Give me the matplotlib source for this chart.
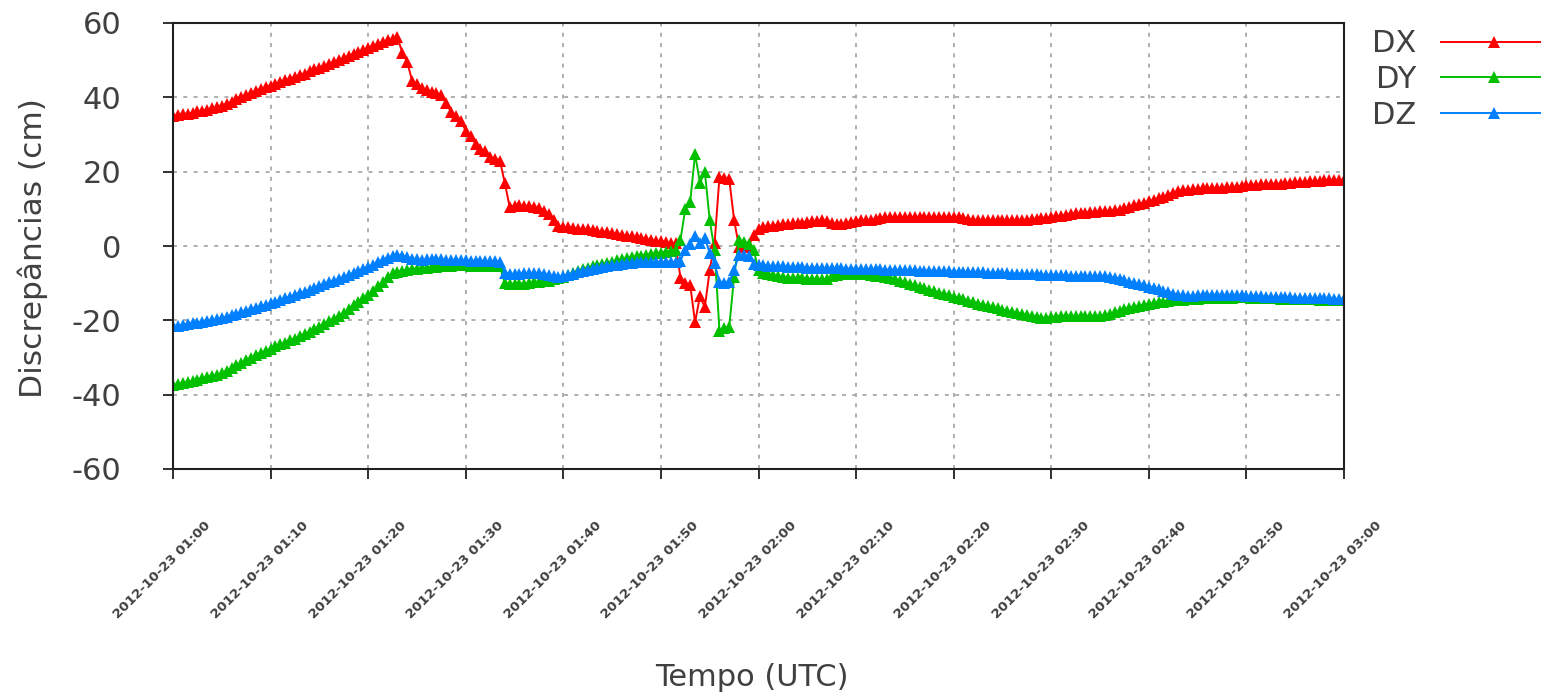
import matplotlib
matplotlib.use("Agg")
import matplotlib.pyplot as plt
import matplotlib.dates as mdates
from matplotlib.transforms import ScaledTranslation
import pandas as pd

# Sampling: one epoch every 30 s between 01:00 and 03:00 UTC
start_time = "2012-10-23 01:00"
end_time = "2012-10-23 03:00"
step = "30s"

# Coordinate discrepancies (cm)
dx = [
    35.0, 35.2, 35.5, 35.6, 35.9, 36.2, 36.4, 36.7, 37.0, 37.3,
    37.8, 38.3, 38.8, 39.5, 40.0, 40.6, 41.1, 41.7, 42.2, 42.7,
    43.1, 43.6, 44.1, 44.6, 45.0, 45.5, 46.0, 46.4, 47.0, 47.5,
    48.0, 48.5, 49.0, 49.5, 50.0, 50.6, 51.1, 51.7, 52.2, 52.8,
    53.3, 53.8, 54.3, 54.8, 55.3, 55.7, 56.2, 52.0, 49.5, 44.5,
    43.5, 42.5, 42.0, 41.5, 41.2, 40.5, 38.5, 36.0, 35.0, 33.5,
    31.0, 29.5, 27.5, 26.0, 25.5, 24.0, 23.5, 23.0, 17.0, 10.5,
    10.8, 11.0, 10.8, 10.7, 10.5, 10.2, 9.5, 8.5, 7.0, 5.5,
    5.0, 5.0, 4.9, 4.7, 4.6, 4.5, 4.3, 4.0, 3.9, 3.7,
    3.5, 3.3, 3.0, 2.8, 2.6, 2.3, 2.1, 1.8, 1.6, 1.4,
    1.3, 1.1, 0.9, 0.7, -8.5, -10.0, -10.5, -20.5, -13.5, -16.5,
    -6.5, 0.8, 18.6, 18.2, 18.0, 7.0, -0.2, -0.3, 0.0, 3.0,
    4.5, 5.0, 5.3, 5.5, 5.6, 5.8, 6.0, 6.1, 6.3, 6.3,
    6.5, 6.6, 6.8, 6.9, 6.8, 6.3, 6.0, 6.0, 6.2, 6.5,
    6.8, 6.9, 7.0, 7.0, 7.2, 7.6, 7.7, 7.7, 7.8, 7.8,
    7.8, 7.9, 7.8, 7.8, 7.9, 7.8, 7.8, 7.8, 7.9, 7.8,
    7.8, 7.8, 7.6, 7.3, 7.1, 7.0, 7.0, 7.0, 7.0, 7.0,
    7.0, 7.0, 7.0, 7.0, 7.1, 7.1, 7.2, 7.3, 7.5, 7.6,
    7.8, 8.0, 8.2, 8.4, 8.6, 8.8, 8.9, 9.0, 9.1, 9.2,
    9.3, 9.4, 9.5, 9.6, 9.8, 10.1, 10.5, 10.9, 11.3, 11.7,
    12.0, 12.4, 12.8, 13.3, 13.8, 14.3, 14.7, 15.0, 15.2, 15.3,
    15.4, 15.5, 15.5, 15.6, 15.7, 15.7, 15.8, 15.8, 16.0, 16.2,
    16.4, 16.5, 16.5, 16.6, 16.6, 16.7, 16.8, 16.8, 16.9, 17.0,
    17.1, 17.2, 17.3, 17.4, 17.5, 17.6, 17.7, 17.8, 17.8, 17.8,
    17.8,
]

dy = [
    -37.5, -37.2, -36.9, -36.6, -36.3, -36.0, -35.6, -35.3, -35.0, -34.7,
    -34.2, -33.5, -32.8, -32.1, -31.4, -30.7, -30.0, -29.4, -28.8, -28.2,
    -27.6, -27.0, -26.5, -26.0, -25.4, -24.9, -24.3, -23.7, -23.1, -22.4,
    -21.7, -21.0, -20.3, -19.6, -18.9, -18.0, -17.0, -16.0, -15.0, -14.0,
    -13.2, -12.0, -10.8, -9.6, -8.4, -7.3, -6.9, -6.7, -6.5, -6.3,
    -6.2, -6.0, -5.8, -5.7, -5.6, -5.5, -5.4, -5.3, -5.2, -5.1,
    -5.2, -5.3, -5.3, -5.4, -5.4, -5.4, -5.5, -5.5, -10.0, -10.3,
    -10.3, -10.2, -10.1, -10.0, -9.8, -9.6, -9.5, -9.3, -9.0, -8.7,
    -8.3, -7.8, -7.3, -6.8, -6.3, -5.9, -5.5, -5.1, -4.8, -4.5,
    -4.2, -3.9, -3.6, -3.3, -3.0, -2.8, -2.6, -2.4, -2.2, -2.0,
    -1.8, -1.6, -1.4, -1.0, 1.6, 10.0, 11.8, 24.8, 17.0, 20.0,
    7.0, -1.2, -22.8, -22.0, -21.8, -8.3, 1.6, 1.2, 0.5, -1.0,
    -6.5, -7.3, -7.6, -7.9, -8.2, -8.4, -8.5, -8.6, -8.6, -8.7,
    -8.8, -8.9, -9.0, -9.0, -8.9, -8.2, -7.8, -7.6, -7.5, -7.5,
    -7.5, -7.5, -7.6, -7.8, -8.0, -8.2, -8.4, -8.7, -9.0, -9.4,
    -9.8, -10.2, -10.6, -11.0, -11.4, -11.8, -12.2, -12.6, -13.0, -13.3,
    -13.6, -13.9, -14.3, -14.7, -15.1, -15.5, -15.9, -16.2, -16.5, -16.8,
    -17.1, -17.4, -17.7, -18.0, -18.3, -18.6, -18.9, -19.1, -19.3, -19.4,
    -19.2, -19.0, -18.8, -18.7, -18.8, -18.8, -18.9, -18.9, -18.8, -18.8,
    -18.7, -18.5, -18.2, -17.8, -17.4, -17.0, -16.7, -16.4, -16.1, -15.8,
    -15.6, -15.4, -15.2, -15.0, -14.8, -14.6, -14.5, -14.4, -14.3, -14.2,
    -14.2, -14.1, -14.0, -14.0, -14.0, -13.9, -13.9, -13.9, -13.8, -13.8,
    -13.8, -13.9, -13.9, -14.0, -14.0, -14.1, -14.1, -14.2, -14.2, -14.2,
    -14.2, -14.3, -14.3, -14.3, -14.3, -14.4, -14.4, -14.4, -14.4, -14.4,
    -14.5,
]

dz = [
    -21.5, -21.4, -21.2, -21.0, -20.8, -20.6, -20.4, -20.2, -20.0, -19.7,
    -19.4, -19.0, -18.6, -18.2, -17.8, -17.4, -17.0, -16.6, -16.2, -15.8,
    -15.4, -15.0, -14.6, -14.1, -13.6, -13.1, -12.7, -12.3, -11.8, -11.3,
    -10.8, -10.3, -9.8, -9.3, -8.9, -8.4, -7.8, -7.2, -6.7, -6.2,
    -5.6, -5.0, -4.3, -3.7, -3.1, -2.6, -2.3, -2.6, -3.0, -3.4,
    -3.6, -3.7, -3.6, -3.5, -3.5, -3.6, -3.7, -3.8, -3.8, -3.9,
    -3.9, -4.0, -4.0, -4.0, -4.0, -4.1, -4.1, -4.2, -7.2, -7.5,
    -7.5, -7.4, -7.3, -7.3, -7.2, -7.3, -7.5, -7.8, -8.1, -8.3,
    -8.2, -7.8, -7.4, -7.0, -6.7, -6.4, -6.1, -5.8, -5.6, -5.4,
    -5.2, -5.0, -4.8, -4.6, -4.5, -4.4, -4.4, -4.4, -4.4, -4.4,
    -4.4, -4.4, -4.4, -4.3, -4.0, -1.0, 0.5, 2.8, 0.8, 2.1,
    -1.9, -4.6, -9.7, -10.0, -9.8, -6.5, -2.4, -2.4, -2.6, -4.8,
    -5.0, -5.2, -5.3, -5.4, -5.5, -5.5, -5.6, -5.6, -5.7, -5.7,
    -5.8, -5.8, -5.8, -5.9, -5.9, -6.0, -6.0, -6.0, -6.1, -6.1,
    -6.2, -6.2, -6.2, -6.3, -6.3, -6.3, -6.4, -6.4, -6.4, -6.5,
    -6.5, -6.5, -6.5, -6.6, -6.6, -6.6, -6.7, -6.7, -6.8, -6.8,
    -6.9, -6.9, -7.0, -7.0, -7.0, -7.1, -7.1, -7.2, -7.2, -7.2,
    -7.3, -7.3, -7.4, -7.4, -7.5, -7.5, -7.6, -7.6, -7.7, -7.7,
    -7.8, -7.8, -7.9, -7.9, -8.0, -8.0, -8.0, -8.1, -8.1, -8.1,
    -8.2, -8.2, -8.3, -8.5, -8.8, -9.2, -9.6, -10.0, -10.3, -10.6,
    -10.9, -11.3, -11.7, -12.1, -12.5, -12.8, -13.1, -13.3, -13.4, -13.4,
    -13.3, -13.2, -13.2, -13.1, -13.1, -13.1, -13.2, -13.2, -13.3, -13.3,
    -13.4, -13.4, -13.5, -13.5, -13.6, -13.6, -13.7, -13.7, -13.8, -13.8,
    -13.9, -13.9, -14.0, -14.0, -14.0, -14.1, -14.1, -14.1, -14.2, -14.2,
    -14.2,
]

series_names = ["DX", "DY", "DZ"]
series_colors = ["#ff0000", "#00c000", "#0080ff"]
y_ticks = [-60, -40, -20, 0, 20, 40, 60]
x_label = "Tempo (UTC)"
y_label = "Discrepâncias (cm)"

times = pd.date_range(start_time, end_time, freq=step)

plt.rcParams["font.family"] = ["DejaVu Sans"]
plt.rcParams["axes.unicode_minus"] = False
text_color = "#404040"

fig = plt.figure(figsize=(15.41, 6.94), dpi=100)
ax = fig.add_axes([173 / 1541, 1 - 469 / 694, (1344 - 173) / 1541, (469 - 23) / 694])

for name, values, color in zip(series_names, [dx, dy, dz], series_colors):
    ax.plot(times, values, color=color, linewidth=1.4, marker="^",
            markersize=8.5, markeredgewidth=0, label=name)

ax.set_xlim(pd.Timestamp(start_time), pd.Timestamp(end_time))
ax.set_ylim(-60, 60)
ax.set_yticks(y_ticks)
ax.xaxis.set_major_locator(mdates.MinuteLocator(byminute=range(0, 60, 10)))
ax.xaxis.set_major_formatter(mdates.DateFormatter("%Y-%m-%d %H:%M"))

ax.grid(True, color="#a8a8a8", linestyle=(0, (2.2, 3.5)), linewidth=1.3)
ax.set_axisbelow(True)
for spine in ax.spines.values():
    spine.set_linewidth(1.5)
    spine.set_color("#202020")

ax.tick_params(axis="both", direction="out", length=7, width=1.3, color="#202020")
ax.tick_params(axis="y", labelsize=22, labelcolor=text_color, pad=30)
ax.tick_params(axis="x", labelsize=9.5, labelcolor=text_color, pad=4)

for lbl in ax.get_yticklabels():
    lbl.set_ha("right")

offset = ScaledTranslation(0.36, -0.39, fig.dpi_scale_trans)
for lbl in ax.get_xticklabels():
    lbl.set_rotation(45)
    lbl.set_rotation_mode("anchor")
    lbl.set_ha("right")
    lbl.set_va("center")
    lbl.set_fontweight("bold")
    lbl.set_transform(lbl.get_transform() + offset)

fig.text(33 / 1541, 1 - 248 / 694, y_label, fontsize=22.5, color=text_color,
         rotation=90, ha="center", va="center")
fig.text(752 / 1541, 1 - 678 / 694, x_label, fontsize=22, color=text_color,
         ha="center", va="center")

leg = ax.legend(loc="upper left", bbox_to_anchor=(1357 / 1541, 1 - 14 / 694),
                bbox_transform=fig.transFigure, frameon=False, markerfirst=False,
                fontsize=22, handlelength=3.5, handletextpad=0.8,
                labelspacing=0.22, numpoints=1, borderpad=0)
for t in leg.get_texts():
    t.set_color(text_color)

fig.savefig("out.png", dpi=100)
